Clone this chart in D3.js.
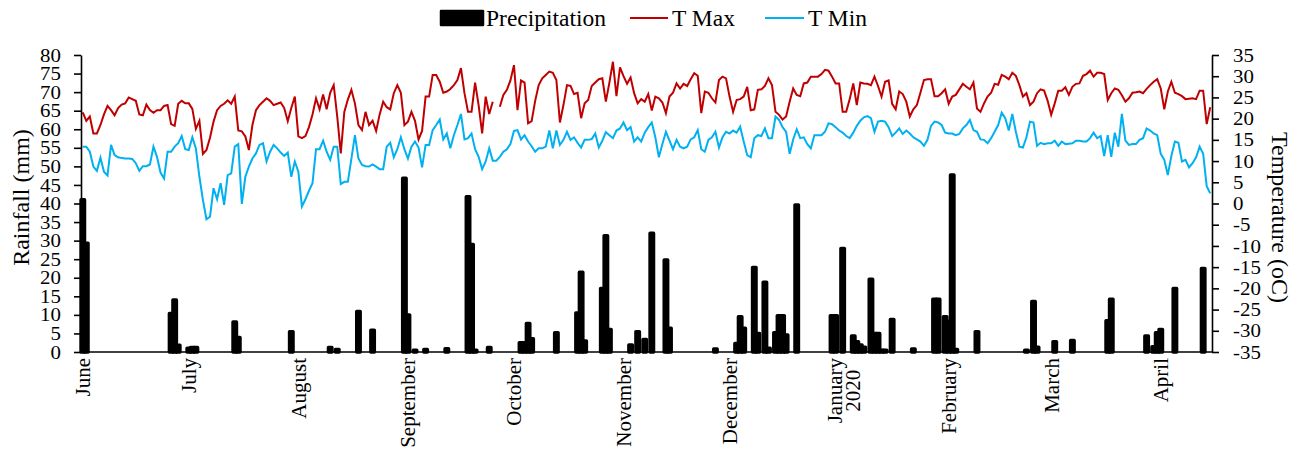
<!DOCTYPE html>
<html>
<head>
<meta charset="utf-8">
<script src="https://cdn.jsdelivr.net/npm/d3@7"></script>
<style>
  body { margin: 0; background: #fff; }
  svg text { font-family: "Liberation Serif", "Times New Roman", serif; fill: #000; }
</style>
</head>
<body>
<div id="plot"></div>
<script>
// daily values, 1 June 2019 onwards
var startDate = new Date(2019, 5, 1);

var precip = [
  41,29.3,0,0,0,0,0,0,0,0,0,0,0,0,0,0,0,0,0,0,
  0,0,0,0,0,10.4,14,1.8,0,0,1.0,1.2,1.2,0,0,0,0,0,0,0,
  0,0,0,8.1,3.9,0,0,0,0,0,0,0,0,0,0,0,0,0,0,5.5,
  0,0,0,0,0,0,0,0,0,0,1.2,0,0.7,0,0,0,0,0,10.9,0,
  0,0,5.9,0,0,0,0,0,0,0,0,46.8,10,0,0.5,0,0,0.7,0,0,
  0,0,0,0.9,0,0,0,0,0,41.8,29,0.5,0,0,0,1.2,0,0,0,0,
  0,0,0,0,2.5,2.5,7.7,3.6,0,0,0,0,0,0,5.2,0,0,0,0,0,
  10.5,21.5,3.0,0,0,0,0,17.1,31.3,6.1,0,0,0,0,0,1.9,0,5.5,0,3.4,
  0,32,0,0,0,24.8,6.4,0,0,0,0,0,0,0,0,0,0,0,0,0.8,
  0,0,0,0,0,2.3,9.5,6.4,0,0,22.8,5,0,18.8,1.0,0,5.2,9.8,9.8,4.6,
  0,0,39.6,0,0,0,0,0,0,0,0,0,9.8,9.8,0,27.9,0,0,4.3,2.8,
  1.9,1.3,0,19.6,5,5,0.5,0.5,0,8.8,0,0,0,0,0,0.8,0,0,0,0,
  0,14.2,14.2,0,9.5,8.2,47.7,0.7,0,0,0,0,0,5.5,0,0,0,0,0,0,
  0,0,0,0,0,0,0,0.5,0,13.6,1.3,0,0,0,0,2.8,0,0,0,0,
  3.1,0,0,0,0,0,0,0,0,0,8.4,14.2,0,0,0,0,0,0,0,0,
  0,4.3,0,1.4,5.2,6.1,0,0,0,17.1,0,0,0,0,0,0,0,22.5,0,0
];

var tmax = [
  21.5,19.5,20.5,16.5,16.5,18.5,21,23,22,20.8,
  22.5,23.3,23.6,25,24.6,24.2,21,20.8,23.3,22,
  21.4,22,22,23,23.2,18.7,18.3,23.5,24.2,23.6,
  23.6,22.3,17.6,19.5,11.7,12.6,15.5,19.3,22,23,
  23.5,24.3,23.5,25.2,17.2,17,15.8,12.6,18.5,22,
  23.2,24.0,24.8,24.2,23.2,23.5,23.8,22.5,19.4,22.5,
  25.2,15.8,15.4,15.9,18,21,24.8,22.2,25.7,22.2,
  26.1,27.9,20.5,11.8,21.6,24.5,26.8,23.6,18.5,17.3,
  21.6,18.5,19.5,17.1,21,24.0,22.7,22.2,26,27.9,
  26.1,18.5,19.3,21.6,19.5,15.1,17.1,25.2,25.2,30.3,
  30.3,28.7,26.1,26.4,27.0,27.9,29.1,31.9,26.0,21.6,
  21.6,28.5,23.2,16.5,25.2,21.1,24.0,null,22.8,25.6,
  26.8,29,32.6,22.0,29.0,28.5,18.9,19.4,24.2,27.9,
  29.5,30.3,31.1,30.8,29.1,19.1,23.2,27.9,27.7,25.8,
  26.1,20.1,23.6,24.4,27.7,28.5,29.3,29.5,24.0,28.5,
  33.4,25.3,32.1,30,28.2,29.7,26.0,23.6,24.6,24.0,
  25.8,21.9,25.2,24.8,23.8,21.3,25.2,26.1,28.3,27.1,
  28.2,27.7,29.3,30.7,30.1,21.3,26.4,26.1,24.8,23.8,
  29.1,29.9,29.5,25.2,21.6,24.4,24.6,25.2,27.5,22.0,
  22.2,26.8,26.9,27.7,29.5,27.9,21.6,20.9,19.8,20.5,
  24.0,27.1,25.6,25.3,28.3,28.5,29.9,29.9,29.9,30.5,
  31.5,31.3,29.9,28.3,28.3,21.6,21.6,24.6,28.3,23.2,
  28.5,28.3,28.2,27.9,29.9,27.7,25.2,28.7,29.0,23.5,
  22.2,26.4,25.8,24.0,20.5,22.2,23.2,26.1,29.1,29.3,
  29.3,25.3,25.3,26.0,26.9,23.5,25.2,25.6,26.9,28.2,
  27.5,26.9,28.5,22.4,21.6,23.6,25.2,26.1,28.2,28.0,
  30.3,29.9,29.3,30.8,30.1,27.9,25.2,26.0,23.2,24.0,
  26.0,26.9,26.6,24.2,20.9,23.6,26.6,26.6,27.4,25.6,
  27.5,28.2,28.3,30.1,30.5,31.3,29.9,30.8,30.8,30.5,
  24.4,26.0,27.1,26.8,25.5,24.0,24.8,26.1,26.2,26.4,
  26.0,27.0,27.9,28.7,29.3,27.1,22.2,26.4,28.7,26.1,
  25.8,25.3,24.6,24.7,24.8,24.6,26.6,26.6,18.7,22.7
];

var tmin = [
  13.4,13.4,12.2,8.7,7.7,10.8,7.5,6.6,13.8,11.4,
  10.9,10.7,10.6,10.6,10.5,9.5,7.7,8.8,8.8,9.2,
  13.4,11.0,7.3,5.9,12.2,12.2,13.4,14.2,15.9,12.8,
  12.6,15.6,13.0,6.3,0.8,-3.7,-3.1,3.6,1,4.8,
  -0.3,6.7,7.1,13.4,14.0,-0.1,6.3,8.7,10.6,11.8,
  13.8,14.2,9.9,12.2,13.8,13.0,12.0,11.2,12.0,6.3,
  9.9,7.5,-0.7,1.0,3.0,4.8,12.8,12.8,14.8,12.2,
  10.3,13.4,13.4,4.6,5.1,5.1,10.5,16.1,10.6,9.1,
  8.8,8.7,9.2,8.7,8.1,8.1,13.4,14.3,10.9,12.8,
  15.6,12.8,10.6,13.4,14.6,13.2,8.5,13.8,13.8,17.3,
  18.5,19.8,15.1,16.5,13.0,16.1,18.5,21.1,15.1,15.4,
  16.5,12.8,11.0,8.1,9.9,13.0,10.1,10.1,11.0,12.2,
  12.8,14,17.1,17.3,15.1,16.1,14.6,13.5,12.2,13.0,
  13.0,13.4,17.2,13.0,17.2,13.8,15.0,16.9,15.0,15.6,
  14.3,13.2,15.0,15.0,15.2,16.5,13.2,14.8,16.8,16.1,
  15.4,17.2,17.7,19.1,17.3,18.0,14.6,15.6,14.6,16.7,
  18.0,19.1,15.6,10.9,14.0,16.9,14.8,12.8,15.0,13.4,
  13.0,13.4,15.1,15.6,17.3,12.8,12.2,15.0,15.6,16.9,
  13.2,15.6,16.9,16.5,17.2,16.7,18.1,14.6,11.4,10.9,
  15.4,16.1,15.9,17.7,15.4,15.4,20.5,19.7,18.0,16.9,
  11.7,15.1,17.5,15.4,15.6,14.0,13.0,16.1,16.1,16.1,
  16.9,18.9,18.7,18.0,17.2,16.7,15.9,15.4,16.7,18.3,
  19.5,20.3,20.6,20.1,16.9,19.3,19.5,19.3,18.0,15.9,
  16.7,17.7,16.4,17.2,16.5,15.6,15.1,14.6,13.6,15.0,
  18.3,19.3,19.1,18.5,16.7,16.5,16.5,16.1,16.4,17.7,
  18.5,19.7,17.3,16.9,15.1,15.0,14.2,15.4,16.9,18.5,
  21.4,20.1,17.2,21.1,16.9,13.4,13.2,15.6,19.3,19.1,
  13.6,14.3,14.0,14.2,14.2,14.8,13.6,14.6,14.0,14.1,
  14.2,14.8,14.8,14.6,14.6,15.4,16.7,15.4,15.9,11.2,
  16.1,11.0,16.7,13.4,21.1,14.8,13.8,14.0,14.0,15.0,
  15.4,17.7,17.2,16.5,16.1,11.7,10.3,6.7,11.2,14.6,
  14.3,9.9,10.3,8.5,9.5,10.9,13.4,11.7,4.1,2.4
];

// x-axis labels, one per month start
var monthLabels = [["June"], ["July"], ["August"], ["September"], ["October"],
  ["November"], ["December"], ["January", "2020"], ["February"], ["March"], ["April"]];

var rainTicks = d3.range(0, 81, 5);
var tempTicks = d3.range(-35, 36, 5);

var seriesNames = ["Precipitation", "T Max", "T Min"];
var colors = {"Precipitation": "#000000", "T Max": "#C00000", "T Min": "#00B0F0"};

// size and plot box
var width = 1299, height = 452;
var margin = {top: 55, right: 87, bottom: 100, left: 81};

var svg = d3.select("div#plot")
  .append("svg")
    .attr("width", width)
    .attr("height", height);

var days = d3.timeDay.range(startDate, d3.timeDay.offset(startDate, precip.length));

var x = d3.scaleBand()
  .domain(d3.range(days.length))
  .range([margin.left, width - margin.right])
  .padding(0);

var yRain = d3.scaleLinear().domain([0, 80]).range([height - margin.bottom, margin.top]);
var yTemp = d3.scaleLinear().domain([-35, 35]).range([height - margin.bottom, margin.top]);

// bars
svg.append("g")
  .selectAll("rect")
  .data(precip.map(function(v, i) { return {i: i, v: v}; }).filter(function(d) { return d.v > 0; }))
  .enter().append("rect")
    .attr("x", function(d) { return x(d.i); })
    .attr("y", function(d) { return yRain(d.v); })
    .attr("width", x.bandwidth())
    .attr("height", function(d) { return yRain(0) - yRain(d.v); })
    .attr("fill", "#000")
    .attr("stroke", "#000")
    .attr("stroke-width", 3.4)
    .attr("stroke-linejoin", "round");

// temperature lines
var line = d3.line()
  .defined(function(d) { return d != null; })
  .x(function(d, i) { return x(i) + x.bandwidth() / 2; })
  .y(function(d) { return yTemp(d); });

svg.append("path")
  .datum(tmax)
  .attr("fill", "none")
  .attr("stroke", colors["T Max"])
  .attr("stroke-width", 2)
  .attr("d", line);

svg.append("path")
  .datum(tmin)
  .attr("fill", "none")
  .attr("stroke", colors["T Min"])
  .attr("stroke-width", 2)
  .attr("d", line);

// axes
var leftAxis = svg.append("g")
  .attr("transform", "translate(" + margin.left + ",0)")
  .call(d3.axisLeft(yRain).tickValues(rainTicks).tickSize(7).tickSizeOuter(0).tickPadding(13));

var rightAxis = svg.append("g")
  .attr("transform", "translate(" + (width - margin.right) + ",0)")
  .call(d3.axisRight(yTemp).tickValues(tempTicks).tickSize(7).tickSizeOuter(0).tickPadding(14));

var stretch = 1.1;
[leftAxis, rightAxis].forEach(function(a) {
  a.selectAll("path, line").attr("stroke", "#000").attr("stroke-width", 1.6);
  a.selectAll("text")
    .style("font-size", "19px")
    .attr("font-family", null)
    .attr("x", function() { return +this.getAttribute("x") / stretch; })
    .attr("transform", "scale(" + stretch + ",1)");
});
rightAxis.selectAll("text").text(function(d) { return d < 0 ? "-" + Math.abs(d) : d; });

svg.append("line")
  .attr("x1", margin.left).attr("x2", width - margin.right)
  .attr("y1", yRain(0)).attr("y2", yRain(0))
  .attr("stroke", "#000").attr("stroke-width", 1.6);

// month labels
var monthStarts = d3.range(days.length).filter(function(i) { return days[i].getDate() === 1; });
var labelTop = yRain(0) + 6;

monthStarts.forEach(function(di, k) {
  var lines = monthLabels[k];
  var cx = x(di) + x.bandwidth() / 2;
  var first = svg.append("text")
    .attr("transform", "translate(" + (cx - (lines.length - 1) * 4) + "," + labelTop + ") rotate(-90)")
    .attr("text-anchor", "end")
    .attr("dy", "0.35em")
    .style("font-size", "21px")
    .text(lines[0]);
  if (lines.length > 1) {
    var len = first.node().getComputedTextLength();
    svg.append("text")
      .attr("transform", "translate(" + (cx + 14) + "," + (labelTop + len / 2) + ") rotate(-90)")
      .attr("text-anchor", "middle")
      .attr("dy", "0.35em")
      .style("font-size", "21px")
      .text(lines[1]);
  }
});

// axis titles
svg.append("text")
  .attr("transform", "translate(21," + ((margin.top + height - margin.bottom) / 2 - 6) + ") rotate(-90)")
  .attr("text-anchor", "middle")
  .attr("dy", "0.35em")
  .style("font-size", "24px")
  .text("Rainfall (mm)");

svg.append("text")
  .attr("transform", "translate(1280," + ((margin.top + height - margin.bottom) / 2 + 14) + ") rotate(90)")
  .attr("text-anchor", "middle")
  .attr("dy", "0.35em")
  .style("font-size", "24px")
  .text("Temperature (oC)");

// legend
var legend = svg.append("g").attr("transform", "translate(0,18)");
legend.append("rect")
  .attr("x", 441).attr("y", -7).attr("width", 42).attr("height", 14)
  .attr("fill", "#000").attr("stroke", "#000").attr("stroke-width", 2.5).attr("stroke-linejoin", "round");
legend.append("text").attr("x", 486).attr("dy", "0.35em").style("font-size", "23.5px").text(seriesNames[0]);

legend.append("line").attr("x1", 630).attr("x2", 668).attr("y1", 0).attr("y2", 0)
  .attr("stroke", colors["T Max"]).attr("stroke-width", 2);
legend.append("text").attr("x", 672).attr("dy", "0.35em").style("font-size", "23.5px").text(seriesNames[1]);

legend.append("line").attr("x1", 765).attr("x2", 804).attr("y1", 0).attr("y2", 0)
  .attr("stroke", colors["T Min"]).attr("stroke-width", 2);
legend.append("text").attr("x", 808).attr("dy", "0.35em").style("font-size", "23.5px").text(seriesNames[2]);
</script>
</body>
</html>
